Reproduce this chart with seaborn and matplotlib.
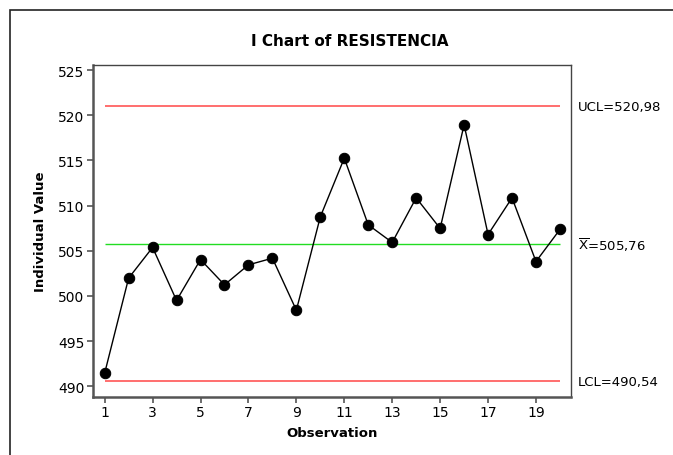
import matplotlib
matplotlib.use("Agg")
import matplotlib.pyplot as plt
import seaborn as sns
import pandas as pd
from matplotlib.patches import Rectangle

observations = list(range(1, 21))
resistencia = [491.45, 501.97, 505.37, 499.50, 504.03, 501.23, 503.44, 504.18, 498.42, 508.76,
               515.25, 507.87, 505.92, 510.86, 507.47, 518.95, 506.80, 510.86, 503.81, 507.36]
ucl = 520.98
center = 505.76
lcl = 490.54
ucl_label = "UCL=520,98"
center_label = r"$\overline{\mathrm{X}}$=505,76"
lcl_label = "LCL=490,54"
y_ticks = [490, 495, 500, 505, 510, 515, 520, 525]
x_ticks = [1, 3, 5, 7, 9, 11, 13, 15, 17, 19]

sns.set_theme(style="white")
plt.rcParams['font.family'] = ['DejaVu Sans']
plt.rcParams['mathtext.fontset'] = 'dejavusans'
plt.rcParams['text.color'] = 'black'
plt.rcParams['axes.labelcolor'] = 'black'

fig = plt.figure(figsize=(6.73, 4.56), dpi=100)
ax = fig.add_axes([0.1377, 0.1279, 0.8484 - 0.1377, 0.856 - 0.1279])

df = pd.DataFrame({"Observation": observations, "Value": resistencia})

ax.hlines(ucl, observations[0], observations[-1], color="#FF5555", lw=1.2, zorder=1)
ax.hlines(lcl, observations[0], observations[-1], color="#FF5555", lw=1.2, zorder=1)
ax.hlines(center, observations[0], observations[-1], color="#22DD22", lw=1.0, zorder=1)

sns.lineplot(data=df, x="Observation", y="Value", ax=ax, color="black", lw=1.0,
             marker="o", markersize=7.5, markeredgecolor="black", markerfacecolor="black", zorder=3)

ax.set_xlim(0.5, 20.46)
ax.set_ylim(488.85, 525.6)
ax.set_xticks(x_ticks)
ax.set_yticks(y_ticks)
ax.tick_params(axis="both", which="major", direction="out", length=4, width=1.2,
               color="#555555", labelsize=10, labelcolor="black", pad=2,
               bottom=True, left=True)
for side in ["left", "bottom"]:
    ax.spines[side].set_color("#555555")
    ax.spines[side].set_linewidth(1.8)
for side in ["top", "right"]:
    ax.spines[side].set_color("#444444")
    ax.spines[side].set_linewidth(1.0)

ax.set_xlabel("Observation", fontsize=9.5, fontweight="bold", labelpad=5, color="black")
ax.set_ylabel("Individual Value", fontsize=9.5, fontweight="bold", labelpad=8, color="black")

fig.text(350 / 673, 1 - 42 / 456, "I Chart of RESISTENCIA", ha="center", va="center",
         fontsize=11, fontweight="bold", color="black")

for val, lab in [(ucl, ucl_label), (center, center_label), (lcl, lcl_label)]:
    ax.annotate(lab, xy=(1.0, val), xycoords=("axes fraction", "data"),
                xytext=(5, 0), textcoords="offset points", ha="left", va="center",
                fontsize=9.5, color="black")

border = Rectangle((10 / 673, -0.1), 1.2, 1 - 11 / 456 + 0.1, transform=fig.transFigure,
                   fill=False, edgecolor="#222222", lw=1.2)
fig.add_artist(border)

fig.savefig("out.png", dpi=100)
